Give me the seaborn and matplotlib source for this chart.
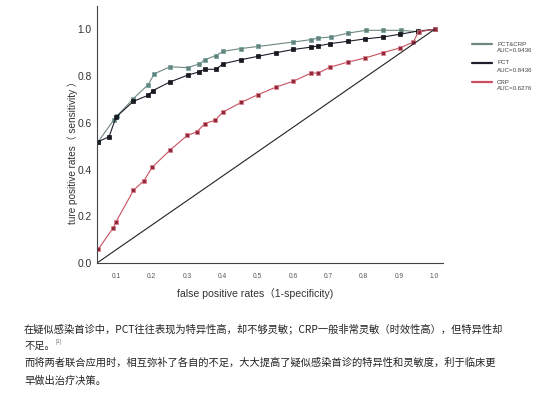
import matplotlib
matplotlib.use("Agg")
import matplotlib.pyplot as plt
import seaborn as sns
import pandas as pd

# ---- data ----
combo_fpr = [0.05, 0.094, 0.102, 0.149, 0.191, 0.208, 0.253, 0.302, 0.335, 0.351, 0.382, 0.403,
             0.453, 0.502, 0.601, 0.651, 0.671, 0.707, 0.756, 0.806, 0.855, 0.904, 0.954, 1.0]
combo_tpr = [0.52, 0.614, 0.628, 0.704, 0.764, 0.81, 0.84, 0.836, 0.852, 0.87, 0.888, 0.906,
             0.918, 0.927, 0.946, 0.956, 0.963, 0.967, 0.984, 0.996, 0.996, 0.996, 0.99, 1.0]

pct_fpr = [0.05, 0.080, 0.10, 0.149, 0.191, 0.204, 0.251, 0.302, 0.335, 0.351, 0.382, 0.403,
           0.453, 0.502, 0.552, 0.601, 0.651, 0.671, 0.705, 0.755, 0.803, 0.853, 0.902, 0.954, 1.0]
pct_tpr = [0.52, 0.54, 0.625, 0.692, 0.718, 0.738, 0.774, 0.804, 0.818, 0.829, 0.829, 0.853,
           0.87, 0.885, 0.90, 0.914, 0.924, 0.929, 0.939, 0.949, 0.959, 0.967, 0.979, 0.993, 1.0]

crp_fpr = [0.05, 0.092, 0.099, 0.149, 0.179, 0.202, 0.253, 0.301, 0.328, 0.351, 0.38, 0.401,
           0.453, 0.502, 0.552, 0.601, 0.651, 0.671, 0.705, 0.755, 0.803, 0.853, 0.902, 0.94,
           0.955, 1.0]
crp_tpr = [0.06, 0.151, 0.174, 0.311, 0.353, 0.41, 0.484, 0.546, 0.561, 0.597, 0.611, 0.645,
           0.687, 0.721, 0.753, 0.778, 0.813, 0.813, 0.838, 0.86, 0.877, 0.90, 0.92, 0.946,
           0.99, 1.0]

ref_x = [0.046, 1.0]
ref_y = [0.0, 1.0]

series_names = ["PCT&CRP", "PCT", "CRP"]
auc_labels = ["AUC=0.9436", "AUC=0.8436", "AUC=0.6276"]
x_ticks = [0.1, 0.2, 0.3, 0.4, 0.5, 0.6, 0.7, 0.8, 0.9, 1.0]
y_ticks = [0.0, 0.2, 0.4, 0.6, 0.8, 1.0]

caption_lines = [
    "在疑似感染首诊中，PCT往往表现为特异性高，却不够灵敏；CRP一般非常灵敏（时效性高），但特异性却",
    "不足。",
    "而将两者联合应用时，相互弥补了各自的不足，大大提高了疑似感染首诊的特异性和灵敏度，利于临床更",
    "早做出治疗决策。",
]

# ---- styling ----
sns.set_theme(style="white")
plt.rcParams["font.family"] = ["Liberation Sans", "DejaVu Sans"]

line_colors = ["#6f8880", "#1e1e2c", "#c9505e"]
marker_face = ["#6d7f7a", "#1a1a22", "#8e2a3c"]
marker_edge = ["#5fa39a", "#111118", "#e07a88"]

fig = plt.figure(figsize=(5.58, 3.98), dpi=100)
ax = fig.add_axes([97 / 558, 1 - 263 / 398, (443 - 97) / 558, (263 - 6) / 398])

datasets = [(combo_fpr, combo_tpr), (pct_fpr, pct_tpr), (crp_fpr, crp_tpr)]
for i, (fx, fy) in enumerate(datasets):
    df = pd.DataFrame({"fpr": fx, "tpr": fy})
    sns.lineplot(data=df, x="fpr", y="tpr", ax=ax, sort=False, estimator=None,
                 color=line_colors[i], linewidth=0.8, marker="s", markersize=3.2,
                 markerfacecolor=marker_face[i], markeredgecolor=marker_edge[i],
                 markeredgewidth=0.5)

sns.lineplot(x=ref_x, y=ref_y, ax=ax, color="#222222", linewidth=0.8)

ax.set_xlim(0.046, 1.024)
ax.set_ylim(0.0, 1.1)
ax.set_xticks(x_ticks)
ax.set_xticklabels([f"{t:.1f}" for t in x_ticks], fontsize=4.8, color="#555555")
ax.set_yticks(y_ticks)
ax.set_yticklabels([f"{t:.1f}" for t in y_ticks], fontsize=7.4, color="#333333")
for s in ["top", "right"]:
    ax.spines[s].set_visible(False)
for s in ["left", "bottom"]:
    ax.spines[s].set_color("#444444")
    ax.spines[s].set_linewidth(0.8)
ax.tick_params(axis="both", direction="out", length=2, width=0.6, color="#444444", pad=2)
ax.tick_params(axis="x", pad=5)
lab_fam = ["Liberation Sans", "Noto Sans CJK SC"]
ax.set_xlabel("false positive rates（1-specificity)", fontsize=7.6, color="#333333",
              family=lab_fam)
ax.set_ylabel("ture positive rates（ sensitivity ）", fontsize=7.2, color="#333333",
              family=lab_fam)
ax.xaxis.set_label_coords((255 - 97) / 346, -25 / 257)
ax.yaxis.set_label_coords(-19 / 346, (263 - 150) / 257)

# legend
leg_y = [44, 63, 82]
for i in range(3):
    yf = 1 - leg_y[i] / 398
    fig.add_artist(plt.Line2D([472 / 558, 492 / 558], [yf, yf], color=line_colors[i],
                              linewidth=1.6, transform=fig.transFigure))
    fig.text(497 / 558, yf, series_names[i], fontsize=4.4, color="#444444", va="center")
    fig.text(497 / 558, 1 - (leg_y[i] + 7) / 398, auc_labels[i], fontsize=4.4,
             color="#444444", va="center")

# caption
cjk = ["Noto Sans CJK SC", "DejaVu Sans"]
cap_y = [329, 346, 363, 381]
for txt, yy in zip(caption_lines, cap_y):
    fig.text(24 / 558, 1 - yy / 398, txt, fontsize=7.4, color="#222222",
             va="center", ha="left", family=cjk)
fig.text(56 / 558, 1 - 341 / 398, "[1]", fontsize=3.6, color="#555555",
         va="center", ha="left", family=cjk)

fig.savefig("out.png", dpi=100, facecolor="white")
